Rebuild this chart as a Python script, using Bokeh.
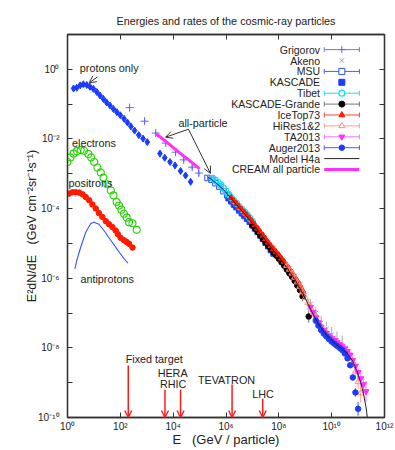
from bokeh.plotting import figure
from bokeh.models import FixedTicker, LogAxis, Arrow, OpenHead, Range1d, ColumnDataSource, LabelSet
from bokeh.embed import file_html
from bokeh.resources import INLINE
from bokeh.core.properties import value

FONT = "Liberation Sans"

# ---------------- data: log10(E / GeV), log10(E^2 dN/dE) ----------------
protons_logE = [0.23, 0.35, 0.48, 0.60, 0.73, 0.85, 0.98, 1.11, 1.23, 1.36, 1.48, 1.61, 1.74, 1.87, 2.00,
                2.14, 2.27, 2.40, 2.54, 2.70, 2.86, 3.02, 3.50, 3.68, 3.88, 4.07, 4.28, 4.47, 4.66]
protons_logF = [-0.55, -0.53, -0.46, -0.43, -0.45, -0.50, -0.56, -0.65, -0.75, -0.85, -0.95, -1.04, -1.14, -1.23, -1.32,
                -1.42, -1.53, -1.64, -1.76, -1.89, -1.99, -2.09, -2.42, -2.54, -2.66, -2.76, -2.92, -3.05, -3.23]

electrons_logE = [0.00, 0.11, 0.23, 0.36, 0.50, 0.63, 0.79, 0.90, 1.01, 1.13, 1.26, 1.36, 1.51, 1.64, 1.74,
                  1.86, 1.95, 2.04, 2.14, 2.24, 2.33, 2.46, 2.62]
electrons_logF = [-2.66, -2.53, -2.42, -2.35, -2.32, -2.34, -2.43, -2.53, -2.66, -2.82, -2.96, -3.11, -3.30, -3.48, -3.62,
                  -3.81, -3.91, -4.03, -4.15, -4.26, -4.39, -4.42, -4.61]

positrons_logE = [0.06, 0.19, 0.31, 0.44, 0.57, 0.69, 0.82, 0.94, 1.07, 1.19, 1.32, 1.45, 1.57, 1.70, 1.82,
                  1.91, 2.01, 2.14, 2.24, 2.33, 2.46]
positrons_logF = [-3.57, -3.53, -3.53, -3.54, -3.59, -3.67, -3.76, -3.88, -4.00, -4.13, -4.24, -4.36, -4.45, -4.53, -4.63,
                  -4.74, -4.84, -4.91, -4.96, -5.01, -5.12]

antiprotons_logE = [0.28, 0.35, 0.50, 0.69, 0.88, 1.00, 1.19, 1.38, 1.64, 1.89, 2.14, 2.29]
antiprotons_logF = [-5.73, -5.49, -5.11, -4.68, -4.43, -4.39, -4.45, -4.63, -4.91, -5.18, -5.44, -5.57]

grigorov_logE = [2.35, 2.92, 3.34, 3.72, 4.09, 4.40, 4.72, 4.97]
grigorov_logF = [-1.10, -1.49, -1.83, -2.12, -2.38, -2.60, -2.81, -2.98]
grigorov_err = [0.03, 0.04, 0.05, 0.05, 0.06, 0.06, 0.07, 0.08]

akeno_logE = [7.0, 7.2, 7.4, 7.6, 7.8, 8.0, 8.2, 8.4, 8.6, 8.8, 9.0, 9.2, 9.4, 9.6, 9.8, 10.0, 10.2, 10.4]
akeno_logF = [-4.38, -4.57, -4.77, -4.96, -5.15, -5.33, -5.52, -5.72, -5.94, -6.18, -6.48, -6.74, -7.00, -7.28,
              -7.46, -7.62, -7.78, -7.92]
akeno_err = [0.04, 0.04, 0.04, 0.04, 0.05, 0.05, 0.05, 0.06, 0.07, 0.09, 0.12, 0.15, 0.18, 0.20, 0.22, 0.22, 0.25, 0.28]

msu_logE = [5.3, 5.45, 5.6, 5.75, 5.9, 6.05, 6.2, 6.35, 6.5, 6.65]
msu_logF = [-3.12, -3.17, -3.27, -3.37, -3.50, -3.62, -3.77, -3.90, -4.03, -4.14]
msu_err = [0.06, 0.06, 0.06, 0.06, 0.07, 0.07, 0.08, 0.08, 0.09, 0.10]

kascade_logE = [6.1, 6.2, 6.3, 6.4, 6.5, 6.6, 6.7, 6.8, 6.9, 7.0, 7.1, 7.2, 7.3, 7.4, 7.5, 7.6, 7.7, 7.8]
kascade_logF = [-3.70, -3.79, -3.88, -3.96, -4.05, -4.13, -4.21, -4.29, -4.38, -4.48, -4.57, -4.67, -4.77, -4.87,
                -4.98, -5.08, -5.19, -5.29]

tibet_logE = [5.5, 5.6, 5.7, 5.8, 5.9, 6.0, 6.1, 6.2, 6.3, 6.4, 6.5, 6.6, 6.7, 6.8, 6.9, 7.0]
tibet_logF = [-3.13, -3.19, -3.25, -3.32, -3.41, -3.50, -3.59, -3.68, -3.77, -3.85, -3.94, -4.02, -4.10, -4.18,
              -4.27, -4.37]
tibet_err = [0.03, 0.03, 0.03, 0.03, 0.03, 0.03, 0.03, 0.03, 0.03, 0.03, 0.03, 0.03, 0.04, 0.04, 0.04, 0.05]

kg_logE = [7.0, 7.1, 7.2, 7.3, 7.4, 7.5, 7.6, 7.7, 7.8, 7.9, 8.0, 8.1, 8.2, 8.3, 8.4, 8.5, 8.6, 8.7, 8.8, 8.9, 9.13]
kg_logF = [-4.48, -4.57, -4.67, -4.77, -4.87, -4.97, -5.07, -5.17, -5.26, -5.35, -5.44, -5.54, -5.64, -5.75,
           -5.86, -5.96, -6.08, -6.21, -6.34, -6.52, -7.10]
kg_err = [0.02, 0.02, 0.02, 0.02, 0.02, 0.02, 0.02, 0.02, 0.03, 0.03, 0.03, 0.03, 0.03, 0.03,
          0.05, 0.06, 0.08, 0.10, 0.12, 0.15, 0.18]

icetop_logE = [6.2, 6.3, 6.4, 6.5, 6.6, 6.7, 6.8, 6.9, 7.0, 7.1, 7.2, 7.3, 7.4, 7.5, 7.6, 7.7, 7.8, 7.9,
               8.0, 8.1, 8.2, 8.3, 8.4, 8.5, 8.6, 8.7, 8.8, 8.9]
icetop_logF = [-3.69, -3.78, -3.86, -3.95, -4.03, -4.11, -4.19, -4.28, -4.38, -4.47, -4.57, -4.67, -4.77, -4.87,
               -4.97, -5.07, -5.16, -5.25, -5.33, -5.43, -5.53, -5.63, -5.73, -5.84, -5.96, -6.08, -6.22, -6.36]
icetop_err = [0.02, 0.02, 0.02, 0.02, 0.02, 0.02, 0.02, 0.02, 0.02, 0.02, 0.03, 0.03, 0.03, 0.03, 0.03, 0.03,
              0.03, 0.03, 0.04, 0.05, 0.06, 0.07, 0.08, 0.09, 0.10, 0.12, 0.14, 0.16]

hires_logE = [8.3, 8.4, 8.5, 8.6, 8.7, 8.8, 8.9, 9.0, 9.1, 9.2, 9.3, 9.4, 9.5, 9.6, 9.7, 9.8, 9.9, 10.0, 10.1,
              10.2, 10.3, 10.4, 10.5, 10.6, 10.7, 10.8, 10.9, 11.0, 11.1]
hires_logF = [-5.64, -5.75, -5.86, -5.98, -6.11, -6.24, -6.40, -6.56, -6.70, -6.84, -6.99, -7.14, -7.28, -7.41,
              -7.51, -7.59, -7.67, -7.74, -7.80, -7.86, -7.92, -7.98, -8.05, -8.13, -8.26, -8.43, -8.68, -8.98, -9.30]
hires_err = [0.05, 0.05, 0.05, 0.05, 0.05, 0.05, 0.05, 0.05, 0.05, 0.05, 0.05, 0.05, 0.05, 0.05, 0.05, 0.05,
             0.05, 0.05, 0.06, 0.06, 0.07, 0.07, 0.08, 0.09, 0.10, 0.12, 0.15, 0.20, 0.28]

ta_logE = [9.2, 9.3, 9.4, 9.5, 9.6, 9.7, 9.8, 9.9, 10.0, 10.1, 10.2, 10.3, 10.4, 10.5, 10.6, 10.7, 10.8, 10.9,
           11.0, 11.1, 11.2, 11.3]
ta_logF = [-6.83, -6.98, -7.13, -7.27, -7.40, -7.50, -7.58, -7.66, -7.72, -7.78, -7.84, -7.90, -7.96, -8.02,
           -8.10, -8.20, -8.35, -8.52, -8.70, -8.88, -9.05, -9.25]
ta_err = [0.03, 0.03, 0.03, 0.03, 0.03, 0.03, 0.03, 0.03, 0.03, 0.03, 0.04, 0.04, 0.05, 0.05, 0.06, 0.07,
          0.09, 0.11, 0.14, 0.18, 0.24, 0.30]

auger_logE = [9.4, 9.5, 9.6, 9.7, 9.8, 9.9, 10.0, 10.1, 10.2, 10.3, 10.4, 10.5, 10.6, 10.7, 10.8, 10.9, 11.0]
auger_logF = [-7.22, -7.36, -7.49, -7.59, -7.67, -7.75, -7.82, -7.88, -7.94, -8.00, -8.06, -8.16, -8.30, -8.50,
              -8.85, -9.28, -9.75]
auger_err = [0.01, 0.01, 0.01, 0.01, 0.01, 0.01, 0.02, 0.02, 0.02, 0.02, 0.03, 0.03, 0.04, 0.05, 0.08, 0.12, 0.20]

h4a_logE = [5.3, 5.6, 5.9, 6.2, 6.5, 6.8, 7.1, 7.4, 7.7, 8.0, 8.3, 8.6, 8.9, 9.2, 9.5, 9.8, 10.1, 10.4, 10.6,
            10.8, 10.95, 11.1, 11.2, 11.3, 11.36]
h4a_logF = [-3.08, -3.25, -3.45, -3.71, -3.98, -4.24, -4.52, -4.82, -5.11, -5.39, -5.69, -6.03, -6.42, -6.89,
            -7.32, -7.63, -7.86, -8.03, -8.17, -8.38, -8.65, -9.00, -9.30, -9.70, -10.05]

cream_logE = [3.35, 3.8, 4.2, 4.6, 5.0]
cream_logF = [-1.85, -2.12, -2.37, -2.61, -2.86]

# annotations (text, logE, logF)
note_text = ["protons only", "electrons", "antiprotons", "all-particle"]
note_logE = [1.58, 1.00, 1.50, 5.13]
note_logF = [0.03, -2.13, -6.01, -1.54]
# "positrons" starts just inside the left axis (text is clipped to the frame)
pos_text = ["positrons"]
pos_logE = [0.04]
pos_logF = [-3.27]

accel_text = ["Fixed target", "HERA", "RHIC", "TEVATRON", "LHC"]
accel_text_logE = [3.28, 3.98, 4.00, 6.02, 7.40]
accel_text_logF = [-8.31, -8.71, -9.03, -8.91, -9.32]
accel_arrow_logE = [2.30, 3.69, 4.28, 6.23, 7.39]
accel_arrow_top = [-8.51, -9.20, -9.20, -9.05, -9.46]

# black pointer arrows: start (logE, logF) -> end
ptr_x0 = [1.13, 4.58, 4.58]
ptr_y0 = [-0.22, -1.72, -1.72]
ptr_x1 = [0.82, 3.71, 5.41]
ptr_y1 = [-0.39, -1.95, -2.99]

title_text = "Energies and rates of the cosmic-ray particles"
xlabel_text = "E\u00a0\u00a0\u00a0(GeV / particle)"
ylabel_text = "E²dN/dE\u00a0\u00a0\u00a0(GeV cm⁻²sr⁻¹s⁻¹)"

x_tick_exp = [0, 2, 4, 6, 8, 10, 12]
x_tick_labels = ["10⁰", "10²", "10⁴", "10⁶", "10⁸", "10¹⁰", "10¹²"]
y_tick_exp = [-10, -9, -8, -7, -6, -5, -4, -3, -2, -1, 0, 1]
y_tick_labels = ["10⁻¹⁰", "", "10⁻⁸", "", "10⁻⁶", "", "10⁻⁴", "", "10⁻²", "", "10⁰", ""]

legend_names = ["Grigorov", "Akeno", "MSU", "KASCADE", "Tibet", "KASCADE-Grande", "IceTop73",
                "HiRes1&2", "TA2013", "Auger2013", "Model H4a", "CREAM all particle"]


def P(v):
    return [10.0 ** a for a in v]


# colours
BLUE = "#1a3cff"
GREEN = "#22d400"
RED = "#ff1a00"
CYAN = "#10e0ff"
MAG = "#ff30ff"
SALMON = "#ff8c80"
GREY = "#9a9a9a"
TXT = "#222222"
AX = "#333333"

p = figure(width=395, height=450, x_axis_type="log", y_axis_type="log",
           x_range=Range1d(1, 1e12), y_range=Range1d(1e-10, 10),
           output_backend="svg", toolbar_location=None,
           min_border_left=67, min_border_right=11, min_border_top=34, min_border_bottom=33)
p.background_fill_color = "white"
p.border_fill_color = "white"
p.outline_line_color = AX
p.outline_line_width = 1.3
p.grid.visible = False

p.title.text = title_text
p.title.align = "center"
p.title.text_font = FONT
p.title.text_font_size = "10.8px"
p.title.text_font_style = "normal"
p.title.text_color = TXT
p.title.standoff = 16

xt = [10.0 ** e for e in x_tick_exp]
yt = [10.0 ** e for e in y_tick_exp]


def style_axis(ax, ticks, labels, show):
    ax.ticker = FixedTicker(ticks=ticks, minor_ticks=[])
    ax.major_tick_in = 5
    ax.major_tick_out = 0
    ax.minor_tick_line_color = None
    ax.major_tick_line_color = AX
    ax.axis_line_color = AX
    ax.axis_line_width = 1.3
    ax.major_label_overrides = {t: l for t, l in zip(ticks, labels)}
    ax.major_label_text_font = FONT
    ax.major_label_text_color = TXT
    if show:
        ax.major_label_text_font_size = "10px"
    else:
        ax.major_label_text_font_size = "0px"
        ax.major_label_standoff = 0


style_axis(p.xaxis[0], xt, x_tick_labels, True)
style_axis(p.yaxis[0], yt, y_tick_labels, True)
p.xaxis[0].major_label_standoff = 3
p.yaxis[0].major_label_standoff = 8
p.xaxis[0].axis_label = xlabel_text
p.yaxis[0].axis_label = ylabel_text
for ax in (p.xaxis[0], p.yaxis[0]):
    ax.axis_label_text_font = FONT
    ax.axis_label_text_font_style = "normal"
    ax.axis_label_text_color = TXT
p.xaxis[0].axis_label_text_font_size = "13px"
p.yaxis[0].axis_label_text_font_size = "12.5px"
p.xaxis[0].axis_label_standoff = -3
p.yaxis[0].axis_label_standoff = -4

top_ax = LogAxis()
style_axis(top_ax, xt, ["" for _ in xt], False)
p.add_layout(top_ax, "above")
right_ax = LogAxis()
style_axis(right_ax, yt, ["" for _ in yt], False)
p.add_layout(right_ax, "right")


def errbars(lx, ly, le, color, w=1.0, alpha=1.0):
    x = P(lx)
    lo = [10.0 ** (a - e) for a, e in zip(ly, le)]
    hi = [10.0 ** (a + e) for a, e in zip(ly, le)]
    p.segment(x0=x, y0=lo, x1=x, y1=hi, line_color=color, line_width=w, line_alpha=alpha)


# ---- low-energy species ----
p.line(P(antiprotons_logE), P(antiprotons_logF), line_color="#3355ff", line_width=1.1)
p.scatter(P(positrons_logE), P(positrons_logF), marker="circle", size=5.5,
          fill_color=RED, line_color=RED)
p.scatter(P(electrons_logE), P(electrons_logF), marker="circle", size=7,
          fill_color=None, line_color=GREEN, line_width=1.1)
p.scatter(P(protons_logE), P(protons_logF), marker="diamond", size=7,
          fill_color=BLUE, line_color=BLUE)

# ---- all-particle data ----
errbars(grigorov_logE, grigorov_logF, grigorov_err, "#7070ff")
p.scatter(P(grigorov_logE), P(grigorov_logF), marker="cross", size=8, line_color="#6060ff", line_width=1)

errbars(akeno_logE, akeno_logF, akeno_err, "#b0b0b0")
p.scatter(P(akeno_logE), P(akeno_logF), marker="x", size=6, line_color=GREY, line_width=1)

errbars(msu_logE, msu_logF, msu_err, "#6a7cff")
p.scatter(P(msu_logE), P(msu_logF), marker="square", size=5.5, fill_color=None, line_color="#3050ff")

p.scatter(P(kascade_logE), P(kascade_logF), marker="square", size=5.5, fill_color=BLUE, line_color=BLUE)

errbars(tibet_logE, tibet_logF, tibet_err, CYAN)
p.scatter(P(tibet_logE), P(tibet_logF), marker="circle", size=6, fill_color=None, line_color=CYAN, line_width=1.2)

errbars(kg_logE, kg_logF, kg_err, "#777777")
p.scatter(P(kg_logE), P(kg_logF), marker="circle", size=5.5, fill_color="black", line_color="black")

errbars(icetop_logE, icetop_logF, icetop_err, "#ff4030")
p.scatter(P(icetop_logE), P(icetop_logF), marker="triangle", size=6, fill_color=RED, line_color=RED)

errbars(hires_logE, hires_logF, hires_err, "#ff9c94")
p.scatter(P(hires_logE), P(hires_logF), marker="triangle", size=6, fill_color=None, line_color=SALMON)

errbars(ta_logE, ta_logF, ta_err, "#ff70ff")
p.scatter(P(ta_logE), P(ta_logF), marker="inverted_triangle", size=6, fill_color=MAG, line_color=MAG)

errbars(auger_logE, auger_logF, auger_err, "#3355ff")
p.scatter(P(auger_logE), P(auger_logF), marker="circle", size=5.5, fill_color=BLUE, line_color=BLUE)

p.line(P(h4a_logE), P(h4a_logF), line_color="#222222", line_width=1.0)
p.line(P(cream_logE), P(cream_logF), line_color=MAG, line_width=3)


# ---- texts ----
def labels(xs, ys, texts, size, align="center"):
    src = ColumnDataSource(dict(x=xs, y=ys, t=texts))
    p.add_layout(LabelSet(x="x", y="y", text="t", source=src, text_font=value(FONT),
                          text_font_size=value(size), text_align=value(align),
                          text_baseline=value("middle"), text_color=value(TXT)))


labels(P(note_logE), P(note_logF), note_text, "10.8px")
labels(P(pos_logE), P(pos_logF), pos_text, "10.8px", align="left")
labels(P(accel_text_logE), P(accel_text_logF), accel_text, "10.8px")

for lx, top in zip(accel_arrow_logE, accel_arrow_top):
    p.add_layout(Arrow(end=OpenHead(size=7, line_color="#ff1a1a", line_width=1.4),
                       x_start=10 ** lx, y_start=10 ** top, x_end=10 ** lx, y_end=1e-10,
                       line_color="#ff1a1a", line_width=1.5))
for a, b, c, d in zip(ptr_x0, ptr_y0, ptr_x1, ptr_y1):
    p.add_layout(Arrow(end=OpenHead(size=7, line_color="#333333", line_width=1),
                       x_start=10 ** a, y_start=10 ** b, x_end=10 ** c, y_end=10 ** d,
                       line_color="#333333", line_width=1))

# ---- legend (gnuplot style: text right-aligned, sample to the right) ----
LEG_TOP = 0.566      # log10 position of first row
LEG_STEP = 0.313     # row spacing (decades)
LEG_TXT = 9.56       # right edge of labels (log10 E)
LEG_X0, LEG_X1 = 9.72, 11.05
LEG_XC = (LEG_X0 + LEG_X1) / 2
CAP = 0.07
rows = [LEG_TOP - LEG_STEP * i for i in range(len(legend_names))]
labels([10 ** LEG_TXT] * len(rows), P(rows), legend_names, "10.5px", align="right")

bar_colors = ["#7070ff", None, "#4060ff", None, CYAN, "#777777", "#ff4030", "#ff9c94", "#ff70ff", "#4060ff"]
for i, c in enumerate(bar_colors):
    if c is None:
        continue
    r = rows[i]
    p.segment(x0=[10 ** LEG_X0], y0=[10 ** r], x1=[10 ** LEG_X1], y1=[10 ** r], line_color=c, line_width=1)
    p.segment(x0=[10 ** LEG_X0, 10 ** LEG_X1], y0=[10 ** (r - CAP)] * 2, x1=[10 ** LEG_X0, 10 ** LEG_X1],
              y1=[10 ** (r + CAP)] * 2, line_color=c, line_width=1)

xc = 10 ** LEG_XC
p.scatter([xc], [10 ** rows[0]], marker="cross", size=7, line_color="#6060ff")
p.scatter([xc], [10 ** rows[1]], marker="x", size=6, line_color=GREY)
p.scatter([xc], [10 ** rows[2]], marker="square", size=6, fill_color="white", line_color="#3050ff")
p.scatter([xc], [10 ** rows[3]], marker="square", size=6, fill_color=BLUE, line_color=BLUE)
p.scatter([xc], [10 ** rows[4]], marker="circle", size=6, fill_color="white", line_color=CYAN, line_width=1.2)
p.scatter([xc], [10 ** rows[5]], marker="circle", size=6, fill_color="black", line_color="black")
p.scatter([xc], [10 ** rows[6]], marker="triangle", size=6, fill_color=RED, line_color=RED)
p.scatter([xc], [10 ** rows[7]], marker="triangle", size=6, fill_color="white", line_color=SALMON)
p.scatter([xc], [10 ** rows[8]], marker="inverted_triangle", size=6, fill_color=MAG, line_color=MAG)
p.scatter([xc], [10 ** rows[9]], marker="circle", size=5.5, fill_color=BLUE, line_color=BLUE)
p.line([10 ** LEG_X0, 10 ** LEG_X1], [10 ** rows[10]] * 2, line_color="#222222", line_width=1)
p.line([10 ** LEG_X0, 10 ** LEG_X1], [10 ** rows[11]] * 2, line_color=MAG, line_width=3)

open("out.html", "w").write(file_html(p, INLINE))
